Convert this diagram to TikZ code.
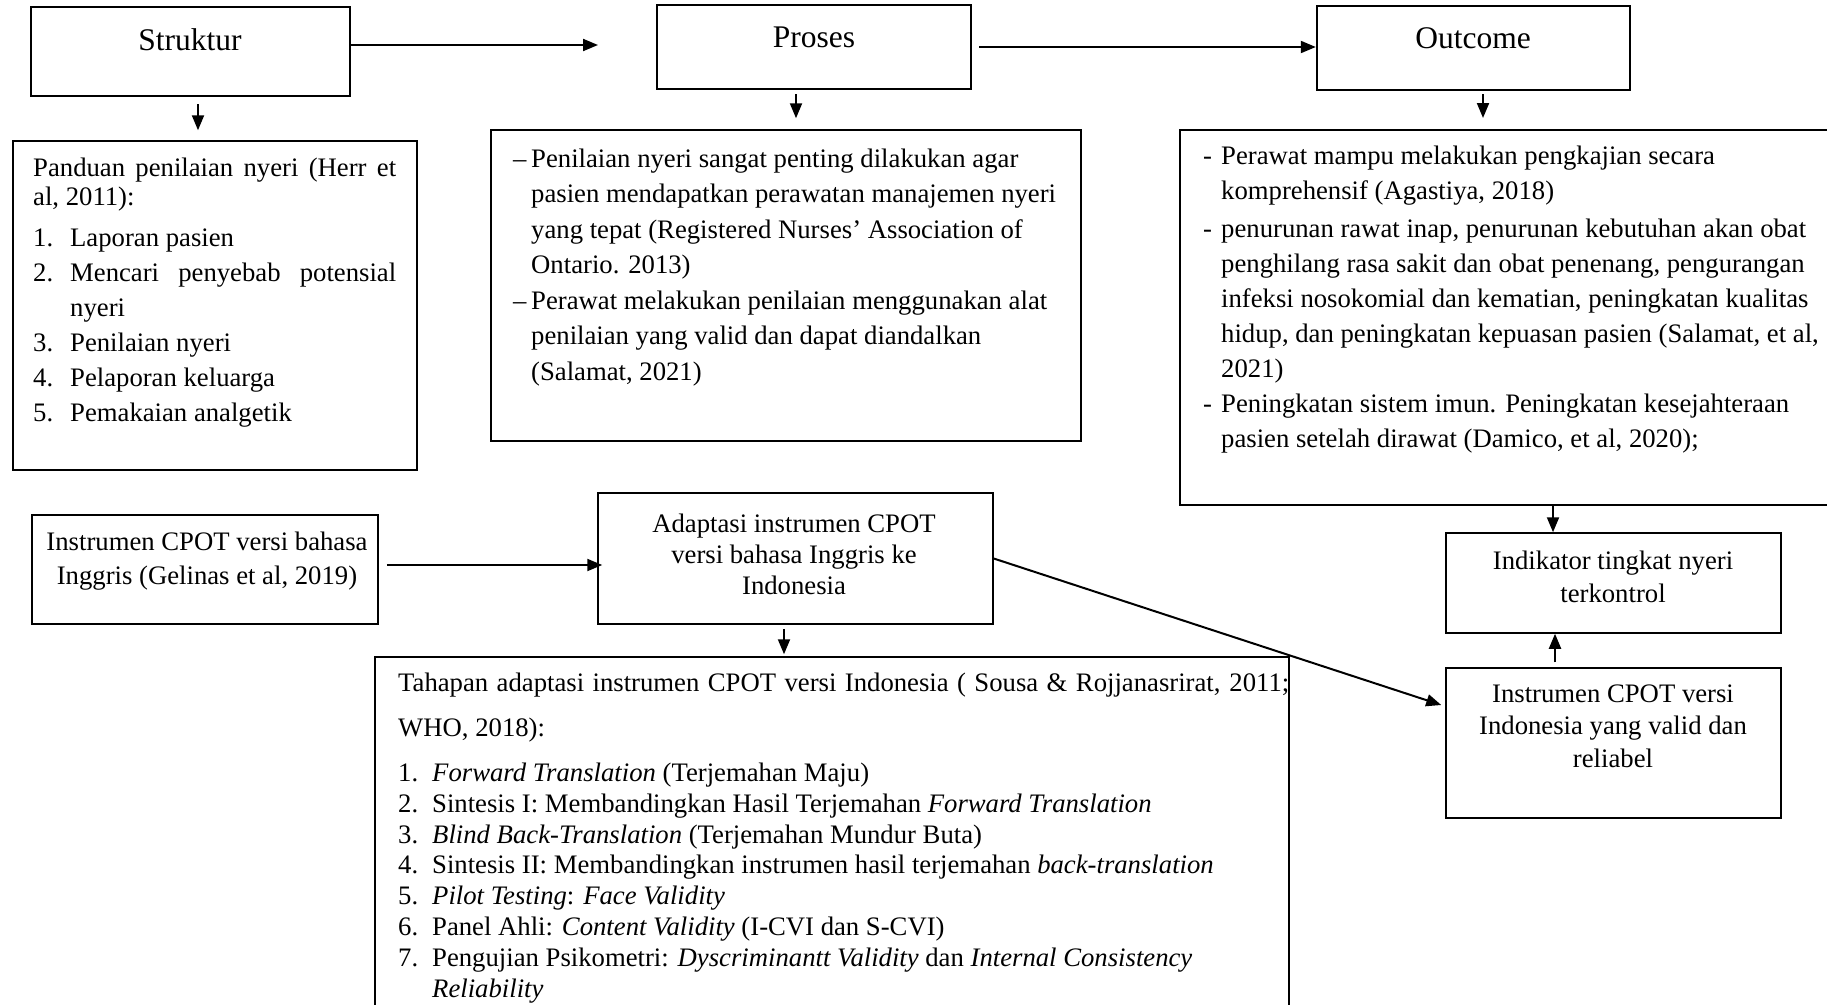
\documentclass[tikz,border=0pt]{standalone}
\usepackage{fontspec}
\setmainfont{Liberation Serif}
\usetikzlibrary{arrows.meta}
\newcommand\bodyfont[1]{\fontsize{26.7}{#1}\selectfont}
\newcommand\titlefont{\fontsize{31.5}{38}\selectfont}
\newcommand\numi[2]{\makebox[#1][l]{#2}}
\tikzset{
  box/.style={draw, line width=1.5pt, inner sep=0pt},
  tbox/.style={box, line width=2.4pt},
  txt/.style={inner sep=0pt, align=left, anchor=base west},
  ctxt/.style={inner sep=0pt, align=center, anchor=base},
  arr/.style={line width=2pt, -{Triangle[length=15pt,width=12pt]}}
}
\begin{document}
\begin{tikzpicture}[x=1pt,y=-1pt]
\useasboundingbox (0,0) rectangle (1827,1004);
\fill[white] (0,0) rectangle (1827,1004);

% boxes
\node[tbox, minimum width=319pt, minimum height=89pt] (Struktur) at (190.5,51.5) {};
\node[tbox, minimum width=314pt, minimum height=84pt] (Proses) at (814,47) {};
\node[tbox, minimum width=313pt, minimum height=84pt] (Outcome) at (1473.5,48) {};
\node[box, minimum width=404pt, minimum height=329pt] (Panduan) at (215,305.5) {};
\node[box, minimum width=590pt, minimum height=311pt] (ProsesBox) at (786,285.5) {};
\node[box, line width=2pt, minimum width=660pt, minimum height=375pt] (OutcomeBox) at (1510,317.5) {};
\node[box, minimum width=346pt, minimum height=109pt] (InstrEN) at (205,569.5) {};
\node[box, minimum width=395pt, minimum height=131pt] (Adaptasi) at (795.5,558.5) {};
\node[box, minimum width=335pt, minimum height=100pt] (Indikator) at (1613.5,583) {};
\node[box, minimum width=335pt, minimum height=150pt] (InstrID) at (1613.5,743) {};
\node[box, minimum width=914pt, minimum height=373pt] (Tahapan) at (832,843.5) {};

% titles
\node[ctxt, font=\titlefont] (tStruktur) at (190,50) {Struktur};
\node[ctxt, font=\titlefont] (tProses) at (814,47) {Proses};
\node[ctxt, font=\titlefont] (tOutcome) at (1473,48) {Outcome};

% Panduan text (anchor = baseline of last line)
\node[txt, font={\bodyfont{35}}] (tPanduan) at (33,421) {\makebox[363pt][s]{Panduan penilaian nyeri (Herr et}\\[-6pt]
al, 2011):\\[6pt]
\numi{37pt}{1.}Laporan pasien\\
\numi{37pt}{2.}\makebox[326pt][s]{Mencari penyebab potensial}\\
\hspace*{37pt}nyeri\\
\numi{37pt}{3.}Penilaian nyeri\\
\numi{37pt}{4.}Pelaporan keluarga\\
\numi{37pt}{5.}Pemakaian analgetik};

% Proses text
\node[txt, font={\bodyfont{35.5}}] (tProsesList) at (513,380) {\numi{18pt}{–}Penilaian nyeri sangat penting dilakukan agar\\
\hspace*{18pt}pasien mendapatkan perawatan manajemen nyeri\\
\hspace*{18pt}yang tepat (Registered Nurses’ Association of\\
\hspace*{18pt}Ontario. 2013)\\
\numi{18pt}{–}Perawat melakukan penilaian menggunakan alat\\
\hspace*{18pt}penilaian yang valid dan dapat diandalkan\\
\hspace*{18pt}(Salamat, 2021)};

% Outcome text
\node[txt, font={\bodyfont{35}}] (tOutcomeList) at (1203,447) {\numi{18pt}{-}Perawat mampu melakukan pengkajian secara\\
\hspace*{18pt}komprehensif (Agastiya, 2018)\\[3pt]
\numi{18pt}{-}penurunan rawat inap, penurunan kebutuhan akan obat\\
\hspace*{18pt}penghilang rasa sakit dan obat penenang, pengurangan\\
\hspace*{18pt}infeksi nosokomial dan kematian, peningkatan kualitas\\
\hspace*{18pt}hidup, dan peningkatan kepuasan pasien (Salamat, et al,\\
\hspace*{18pt}2021)\\
\numi{18pt}{-}Peningkatan sistem imun. Peningkatan kesejahteraan\\
\hspace*{18pt}pasien setelah dirawat (Damico, et al, 2020);};

% centered texts
\node[ctxt, font={\bodyfont{34}}] (tInstrEN) at (207,584) {Instrumen CPOT versi bahasa\\ Inggris (Gelinas et al, 2019)};
\node[ctxt, font={\bodyfont{31}}] (tAdaptasi) at (794,594) {Adaptasi instrumen CPOT\\ versi bahasa Inggris ke\\ Indonesia};
\node[ctxt, font={\bodyfont{33}}] (tIndikator) at (1613,602) {Indikator tingkat nyeri\\ terkontrol};
\node[ctxt, font={\bodyfont{32.5}}] (tInstrID) at (1613,767) {Instrumen CPOT versi\\ Indonesia yang valid dan\\ reliabel};

% Tahapan text
\node[txt, font={\bodyfont{30.8}}] (tTahapan) at (398,997) {\makebox[891pt][s]{Tahapan adaptasi instrumen CPOT versi Indonesia ( Sousa \& Rojjanasrirat, 2011;}\\[14pt]
WHO, 2018):\\[14pt]
\numi{34pt}{1.}\textit{Forward Translation} (Terjemahan Maju)\\
\numi{34pt}{2.}Sintesis I: Membandingkan Hasil Terjemahan \textit{Forward Translation}\\
\numi{34pt}{3.}\textit{Blind Back-Translation} (Terjemahan Mundur Buta)\\
\numi{34pt}{4.}Sintesis II: Membandingkan instrumen hasil terjemahan \textit{back-translation}\\
\numi{34pt}{5.}\textit{Pilot Testing}: \textit{Face Validity}\\
\numi{34pt}{6.}Panel Ahli: \textit{Content Validity} (I-CVI dan S-CVI)\\
\numi{34pt}{7.}Pengujian Psikometri: \textit{Dyscriminantt Validity} dan \textit{Internal Consistency}\\
\hspace*{34pt}\textit{Reliability}};

% helper coordinates
\coordinate (p1) at (598,45);
\coordinate (d1) at (198,0);
\coordinate (d2) at (796,0);
\coordinate (d3) at (1483,0);
\coordinate (h1) at (0,565);
\coordinate (d4) at (784,0);
\coordinate (d5) at (1553,0);
\coordinate (d6) at (1555,0);
\coordinate (t1) at (0,705);

% connectors
\draw[arr] (Struktur.east |- p1) -- (p1);
\draw[arr] ([xshift=7pt]Proses.east) -- (Proses.east -| Outcome.west);
\draw[arr] ([yshift=-7pt]Struktur.south -| d1) -- ([yshift=10pt]Panduan.north -| d1);
\draw[arr] ([yshift=-4pt]Proses.south -| d2) -- ([yshift=11pt]ProsesBox.north -| d2);
\draw[arr] ([yshift=-3pt]Outcome.south -| d3) -- ([yshift=11pt]OutcomeBox.north -| d3);
\draw[arr] ([xshift=8pt]InstrEN.east |- h1) -- ([xshift=5pt]Adaptasi.west |- h1);
\draw[arr] ([yshift=-4pt]Adaptasi.south -| d4) -- ([yshift=2pt]Tahapan.north -| d4);
\draw[arr] (OutcomeBox.south -| d5) -- (Indikator.north -| d5);
\draw[arr] ([yshift=5pt]InstrID.north -| d6) -- (Indikator.south -| d6);
\draw[arr] (Adaptasi.east) -- ([xshift=-4pt]InstrID.west |- t1);
\end{tikzpicture}
\end{document}
